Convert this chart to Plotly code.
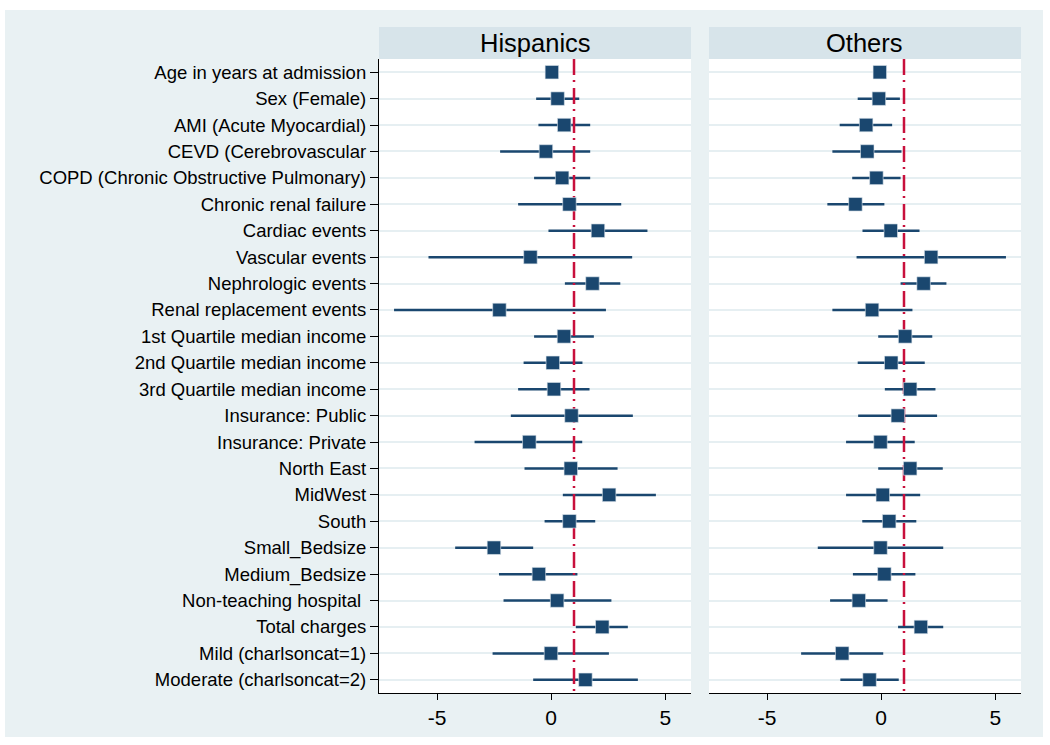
import plotly.graph_objects as go

# -- data ---------------------------------------------------------------
labels = ["Age in years at admission", "Sex (Female)", "AMI (Acute Myocardial)",
          "CEVD (Cerebrovascular", "COPD (Chronic Obstructive Pulmonary)",
          "Chronic renal failure", "Cardiac events", "Vascular events",
          "Nephrologic events", "Renal replacement events",
          "1st Quartile median income", "2nd Quartile median income",
          "3rd Quartile median income", "Insurance: Public", "Insurance: Private",
          "North East", "MidWest", "South", "Small_Bedsize", "Medium_Bedsize",
          "Non-teaching hospital ", "Total charges", "Mild (charlsoncat=1)",
          "Moderate (charlsoncat=2)"]

hisp_est = [0.03, 0.28, 0.57, -0.23, 0.48, 0.80, 2.05, -0.91, 1.81, -2.27, 0.56, 0.07,
            0.12, 0.89, -0.96, 0.86, 2.54, 0.80, -2.51, -0.54, 0.26, 2.24, -0.01, 1.50]
hisp_lo = [-0.02, -0.66, -0.56, -2.24, -0.75, -1.45, -0.12, -5.38, 0.60, -6.89, -0.75, -1.21,
           -1.45, -1.77, -3.36, -1.17, 0.51, -0.29, -4.21, -2.29, -2.09, 1.08, -2.57, -0.79]
hisp_hi = [0.08, 1.23, 1.71, 1.71, 1.71, 3.07, 4.22, 3.55, 3.03, 2.40, 1.87, 1.37,
           1.68, 3.58, 1.36, 2.91, 4.59, 1.93, -0.79, 1.15, 2.64, 3.36, 2.53, 3.80]

oth_est = [-0.06, -0.10, -0.66, -0.61, -0.21, -1.13, 0.42, 2.19, 1.86, -0.40, 1.05, 0.44,
           1.27, 0.73, -0.03, 1.27, 0.07, 0.35, -0.03, 0.14, -0.98, 1.74, -1.71, -0.51]
oth_lo = [-0.11, -1.03, -1.82, -2.14, -1.27, -2.36, -0.82, -1.08, 0.85, -2.14, -0.13, -1.03,
          0.16, -1.01, -1.54, -0.13, -1.54, -0.83, -2.78, -1.24, -2.24, 0.74, -3.51, -1.79]
oth_hi = [-0.01, 0.82, 0.48, 0.89, 0.85, 0.14, 1.68, 5.47, 2.86, 1.37, 2.24, 1.91,
          2.38, 2.45, 1.47, 2.70, 1.71, 1.54, 2.72, 1.50, 0.28, 2.72, 0.09, 0.77]

panels = ["Hispanics", "Others"]
x_ticks = [-5, 0, 5]
x_ticktext = ["-5", "0", "5"]
ref_value = 1

# -- styles -------------------------------------------------------------
NAVY = "#1a476f"
RED = "#c8103c"
BG = "#e9f1f3"
STRIP = "#d7e4ea"
FONT = "Arial, Liberation Sans, sans-serif"

rows = list(range(len(labels)))
y_range = [len(labels) - 0.5, -0.5]

fig = go.Figure()


def add_panel(est, lo, hi, xa, ya):
    # confidence interval lines
    fig.add_trace(go.Scatter(
        x=est, y=rows, mode="markers", xaxis=xa, yaxis=ya, showlegend=False,
        marker=dict(size=1, color="rgba(0,0,0,0)"),
        error_x=dict(type="data", symmetric=False,
                     array=[h - e for h, e in zip(hi, est)],
                     arrayminus=[e - l for e, l in zip(est, lo)],
                     color=NAVY, thickness=2.5, width=0)))
    # reference line at 1
    fig.add_trace(go.Scatter(
        x=[ref_value, ref_value], y=[y_range[1], y_range[0]], mode="lines",
        xaxis=xa, yaxis=ya, showlegend=False,
        line=dict(color=RED, width=2.5, dash="16px,5px,2px,6px")))
    # point estimates
    fig.add_trace(go.Scatter(
        x=est, y=rows, mode="markers", xaxis=xa, yaxis=ya, showlegend=False,
        marker=dict(symbol="square", size=13.5, color=NAVY,
                    line=dict(color="#dfe8ee", width=0.6))))


add_panel(hisp_est, hisp_lo, hisp_hi, "x", "y")
add_panel(oth_est, oth_lo, oth_hi, "x2", "y2")

x_common = dict(range=[-7.55, 6.13], tickvals=x_ticks, ticktext=x_ticktext,
                showgrid=False, zeroline=False, showline=True, linecolor="black",
                linewidth=1.2, ticks="outside", ticklen=6, tickcolor="black",
                tickfont=dict(size=21, color="black"))
y_common = dict(range=y_range, tickvals=rows, showgrid=True, gridcolor="#e6eff2",
                gridwidth=2, zeroline=False)

fig.update_layout(
    width=1050, height=745,
    margin=dict(l=379, r=29, t=59, b=52),
    paper_bgcolor=BG, plot_bgcolor="white",
    font=dict(family=FONT, color="black"),
    xaxis=dict(domain=[0, 0.486], anchor="y", **x_common),
    xaxis2=dict(domain=[0.514, 1], anchor="y2", **x_common),
    yaxis=dict(anchor="x", ticktext=labels, showline=True, linecolor="black",
               linewidth=1.2, ticks="outside", ticklen=8, tickcolor="black",
               tickfont=dict(size=18.5, color="black"), **y_common),
    yaxis2=dict(anchor="x2", showticklabels=False, showline=False, ticks="", **y_common),
)

# panel headers
strip_top = 1 + 32 / 634
for xa, name in zip(["x", "x2"], panels):
    fig.add_shape(type="rect", xref=xa + " domain", yref="paper",
                  x0=0, x1=1, y0=1, y1=strip_top, fillcolor=STRIP, line_width=0)
    fig.add_annotation(text=name, xref=xa + " domain", yref="paper", x=0.5,
                       y=(1 + strip_top) / 2, showarrow=False,
                       font=dict(size=25.5, color="black"), xanchor="center", yanchor="middle")

# white border around the graph region
for x0, x1, y0, y1 in [(-0.6, -0.5826, -0.1, 1.2), (1.0343, 1.06, -0.1, 1.2),
                       (-0.6, 1.06, 1.0773, 1.2), (-0.6, 1.06, -0.1, -0.0694)]:
    fig.add_shape(type="rect", xref="paper", yref="paper", x0=x0, x1=x1, y0=y0, y1=y1,
                  fillcolor="white", line_width=0, layer="below")

fig.write_html("out.html", config={"displayModeBar": False},
               post_script="document.body.style.margin = '0';")
